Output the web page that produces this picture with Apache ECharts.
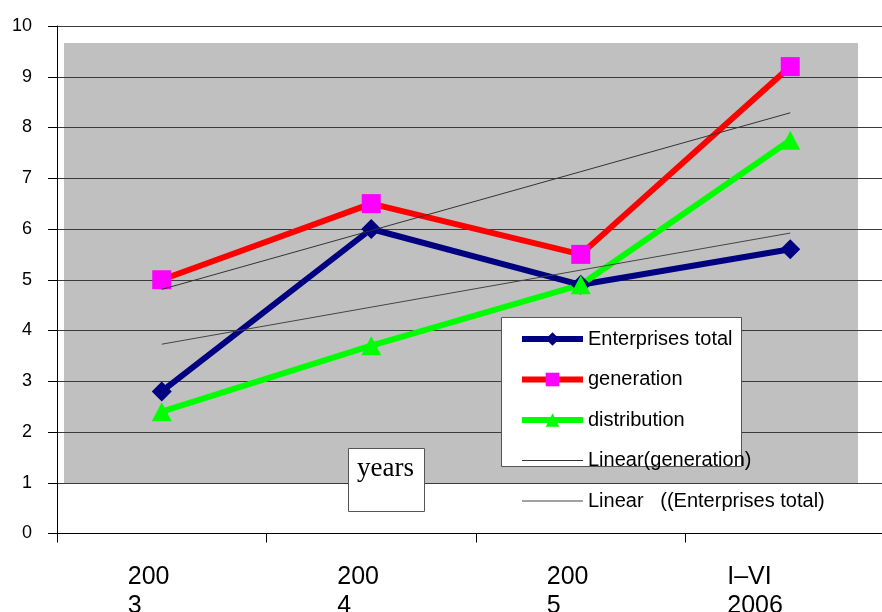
<!DOCTYPE html>
<html>
<head>
<meta charset="utf-8">
<script src="https://cdn.jsdelivr.net/npm/echarts@6/dist/echarts.min.js"></script>
<style>
html,body{margin:0;padding:0;background:#fff;}
#chart{width:882px;height:612px;}
</style>
</head>
<body>
<div id="chart"></div>
<script>
// ---- data ----
var categories = ['2003', '2004', '2005', 'I–VI 2006'];
var tickLabels = [['200', '3'], ['200', '4'], ['200', '5'], ['I–VI', '2006']];
var enterprisesTotal = [2.8, 6.0, 4.9, 5.6];
var generation = [5.0, 6.5, 5.5, 9.2];
var distribution = [2.4, 3.7, 4.9, 7.75];
var yTicks = [0, 1, 2, 3, 4, 5, 6, 7, 8, 9, 10];
var axisTitle = 'years';

// linear trend (least squares), as in a spreadsheet trendline
function linearTrend(vals) {
  var n = vals.length, sx = 0, sy = 0, sxy = 0, sxx = 0;
  for (var i = 0; i < n; i++) { var x = i + 1; sx += x; sy += vals[i]; sxy += x * vals[i]; sxx += x * x; }
  var b = (n * sxy - sx * sy) / (n * sxx - sx * sx);
  var a = (sy - b * sx) / n;
  return vals.map(function (_, i) { return +(a + b * (i + 1)).toFixed(4); });
}
var trendGeneration = linearTrend(generation);
var trendEnterprises = linearTrend(enterprisesTotal);

var SANS = '"Liberation Sans", Arial, sans-serif';
var chart = echarts.init(document.getElementById('chart'), null, {renderer: 'canvas'});

chart.setOption({
  animation: false,
  backgroundColor: '#ffffff',
  grid: {left: 57, right: -13, top: 26, bottom: 78.5, outerBoundsMode: 'none', containLabel: false},
  xAxis: {
    type: 'category',
    data: categories,
    boundaryGap: true,
    axisLine: {show: true, lineStyle: {color: '#000', width: 1}},
    axisTick: {show: true, length: 9, alignWithLabel: false, interval: 0, lineStyle: {color: '#000'}},
    axisLabel: {
      interval: 0,
      margin: 29,
      formatter: function (v, i) {
        var t = tickLabels[i];
        var s = (i === 3) ? 'b' : 'a';
        return '{' + s + '|' + t[0] + '}\n{' + s + '|' + t[1] + '}';
      },
      rich: {
        a: {width: 68, align: 'left', fontSize: 25, lineHeight: 29, fontFamily: SANS, color: '#000'},
        b: {width: 126, align: 'left', fontSize: 25, lineHeight: 29, fontFamily: SANS, color: '#000'}
      }
    },
    splitLine: {show: false}
  },
  yAxis: {
    type: 'value',
    min: yTicks[0],
    max: yTicks[yTicks.length - 1],
    interval: 1,
    axisLine: {show: true, lineStyle: {color: '#000', width: 1}},
    axisTick: {show: true, length: 9, lineStyle: {color: '#000'}},
    axisLabel: {fontSize: 18, fontFamily: SANS, color: '#000', margin: 25},
    splitLine: {show: true, lineStyle: {color: '#3a3a3a', width: 1}}
  },
  legend: {
    orient: 'vertical',
    left: 519,
    top: 329,
    padding: 0,
    itemWidth: 61,
    itemHeight: 17,
    itemGap: 20.5,
    z: 6,
    selectedMode: false,
    textStyle: {fontSize: 20, lineHeight: 20, fontFamily: SANS, color: '#000'},
    data: [
      {name: 'Enterprises total', lineStyle: {width: 6}},
      {name: 'generation', lineStyle: {width: 6}},
      {name: 'distribution', lineStyle: {width: 6}},
      {name: 'Linear(generation)', itemStyle: {opacity: 0}, lineStyle: {width: 1}},
      {name: 'Linear   ((Enterprises total)', itemStyle: {opacity: 0}, lineStyle: {width: 1}}
    ]
  },
  graphic: [
    {type: 'rect', z: -10, silent: true, shape: {x: 64, y: 43, width: 794, height: 440}, style: {fill: '#c0c0c0'}},
    {type: 'rect', z: 5, silent: true, shape: {x: 501.5, y: 317.5, width: 240, height: 149}, style: {fill: '#fff', stroke: '#555', lineWidth: 1}},
    {type: 'rect', z: 5, silent: true, shape: {x: 348.5, y: 448.5, width: 76, height: 63}, style: {fill: '#fff', stroke: '#555', lineWidth: 1}},
    {type: 'text', z: 6, silent: true, style: {x: 357, y: 482, text: axisTitle, fontSize: 27, fontFamily: '"Liberation Serif", "Times New Roman", serif', fill: '#000', textVerticalAlign: 'bottom'}}
  ],
  series: [
    {
      name: 'Enterprises total', type: 'line', data: enterprisesTotal, z: 2,
      symbol: 'diamond', symbolSize: 20,
      lineStyle: {color: '#000080', width: 6},
      itemStyle: {color: '#000080'}
    },
    {
      name: 'generation', type: 'line', data: generation, z: 2,
      symbol: 'rect', symbolSize: 19,
      lineStyle: {color: '#ff0000', width: 6},
      itemStyle: {color: '#ff00ff'}
    },
    {
      name: 'distribution', type: 'line', data: distribution, z: 2,
      symbol: 'triangle', symbolSize: [20, 19],
      lineStyle: {color: '#00ff00', width: 6},
      itemStyle: {color: '#00ff00'}
    },
    {
      name: 'Linear(generation)', type: 'line', data: trendGeneration, z: 3,
      symbol: 'none', lineStyle: {color: '#333', width: 1},
      itemStyle: {color: '#333'}
    },
    {
      name: 'Linear   ((Enterprises total)', type: 'line', data: trendEnterprises, z: 3,
      symbol: 'none', lineStyle: {color: '#444', width: 1},
      itemStyle: {color: '#444'}
    }
  ]
});
</script>
</body>
</html>
